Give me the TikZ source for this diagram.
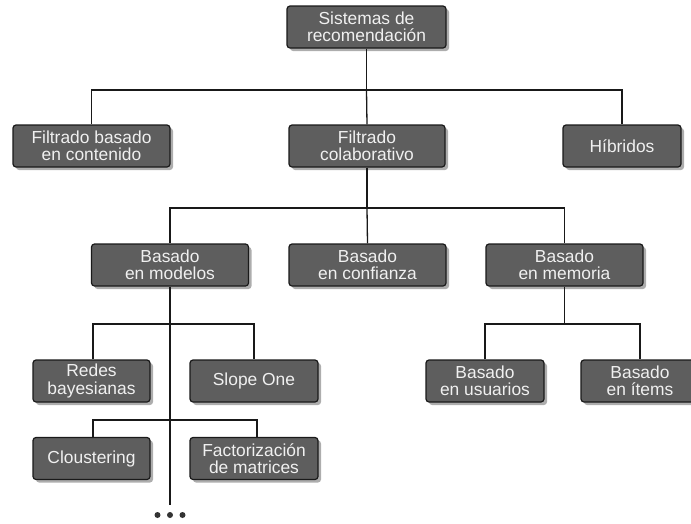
\documentclass[tikz,border=0pt]{standalone}
\usepackage{fontspec}
\setmainfont{Liberation Sans}
\usetikzlibrary{shadows}
\definecolor{boxfill}{HTML}{5E5E5E}
\definecolor{boxline}{HTML}{1A1A1A}
\definecolor{txt}{HTML}{F0F0F0}
\begin{document}
\begin{tikzpicture}[x=1pt,y=-1pt,
  box/.style={draw=boxline, line width=1.2pt, fill=boxfill, rounded corners=3pt,
    text=txt, align=center, inner sep=0pt, minimum height=42pt,
    font=\fontsize{17.4}{17.2}\selectfont,
    drop shadow={shadow xshift=3pt, shadow yshift=-3pt, fill=black!40, opacity=0.8}},
  conn/.style={line width=1.3pt, draw=black!90},
  dot/.style={circle, fill=black!80, inner sep=0pt, minimum size=6pt}]
\useasboundingbox (0,0) rectangle (691,523);
% bus coordinates
\coordinate (b1) at (366.5,90);
\coordinate (b2) at (367,208);
\coordinate (b3) at (170,324);
\coordinate (b4) at (170,420);
\coordinate (b5) at (564.5,324);
\coordinate (dend) at (170,505);
% boxes
\node[box, minimum width=159pt] (root) at (366.5,27) {Sistemas de\\recomendación};
\node[box, minimum width=157pt] (cont) at (91.5,146) {Filtrado basado\\en contenido};
\node[box, minimum width=156pt] (colab) at (367,146) {Filtrado\\colaborativo};
\node[box, minimum width=118pt] (hib) at (622,146) {Híbridos};
\node[box, minimum width=157pt] (mod) at (170,265) {Basado\\en modelos};
\node[box, minimum width=157pt] (conf) at (367.5,265) {Basado\\en confianza};
\node[box, minimum width=157pt] (mem) at (564.5,265) {Basado\\en memoria};
\node[box, minimum width=117pt] (redes) at (91.5,381) {Redes\\bayesianas};
\node[box, minimum width=128pt] (slope) at (254,381) {Slope One};
\node[box, minimum width=117pt] (clou) at (91.5,458.5) {Cloustering};
\node[box, minimum width=128pt] (fact) at (254,458.5) {Factorización\\de matrices};
\node[box, minimum width=118pt] (usu) at (485,381) {Basado\\en usuarios};
\node[box, minimum width=118pt] (items) at (640,381) {Basado\\en ítems};
% dots
\node[dot] (d1) at (157.5,515) {};
\node[dot] (d2) at (170,515) {};
\node[dot] (d3) at (182.5,515) {};
% connectors
\draw[conn] (root.south) -- (b1);
\draw[conn] (cont.north) |- (b1) -| (hib.north);
\draw[conn] (b1) -- (colab.north);
\draw[conn] (colab.south) -- (b2);
\draw[conn] (mod.north) |- (b2) -| (mem.north);
\draw[conn] (b2) -- (conf.north);
\draw[conn] (mod.south) -- (dend);
\draw[conn] (redes.north -| 93,0) |- (b3) -| (slope.north);
\draw[conn] (clou.north -| 93,0) |- (b4) -| (fact.north -| 257,0);
\draw[conn] (mem.south) -- (b5);
\draw[conn] (usu.north) |- (b5) -| (items.north);
\end{tikzpicture}
\end{document}
